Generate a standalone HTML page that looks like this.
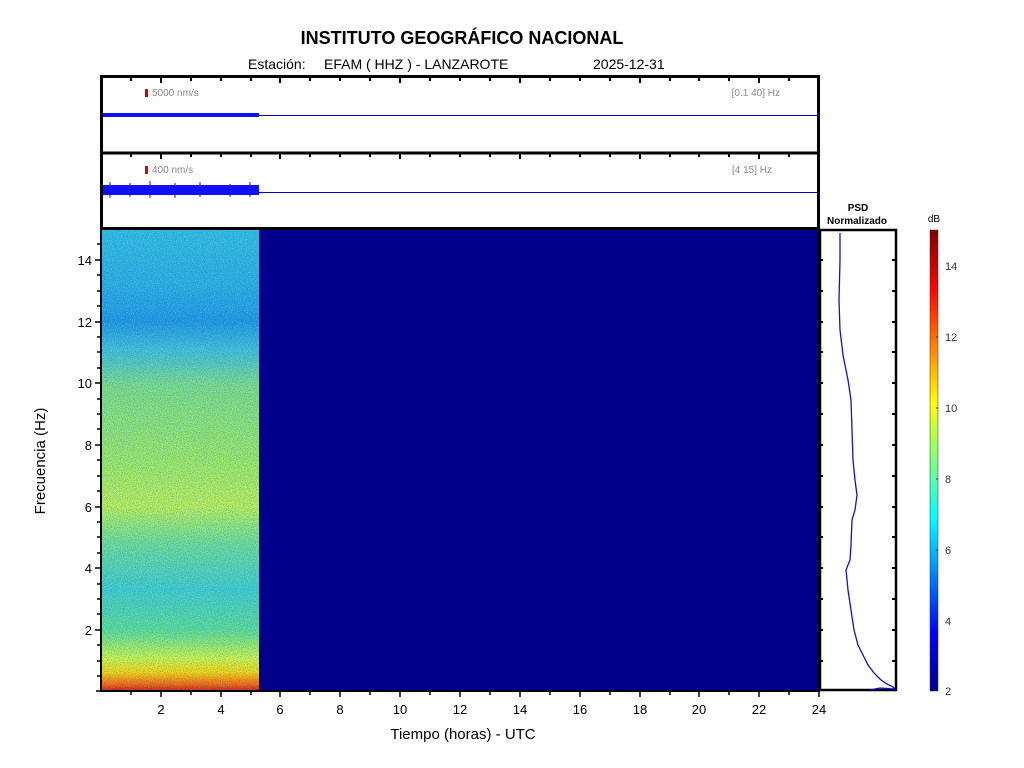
<!DOCTYPE html>
<html><head><meta charset="utf-8"><style>
body{margin:0;background:#fff;}
svg{display:block;font-family:"Liberation Sans",sans-serif;}
</style></head><body>
<svg width="1024" height="768" viewBox="0 0 1024 768">
<defs>
<linearGradient id="spec" x1="0" y1="0" x2="0" y2="1">
<stop offset="0" stop-color="#30b8e0"/>
<stop offset="0.12" stop-color="#2aa8e0"/>
<stop offset="0.2" stop-color="#2090e0"/>
<stop offset="0.26" stop-color="#40b8d8"/>
<stop offset="0.34" stop-color="#80d880"/>
<stop offset="0.5" stop-color="#a0e460"/>
<stop offset="0.6" stop-color="#c0ec50"/>
<stop offset="0.68" stop-color="#70d890"/>
<stop offset="0.78" stop-color="#40c8c8"/>
<stop offset="0.87" stop-color="#60d890"/>
<stop offset="0.93" stop-color="#d0f040"/>
<stop offset="0.96" stop-color="#ffd000"/>
<stop offset="0.985" stop-color="#ff6000"/>
<stop offset="1" stop-color="#d01000"/>
</linearGradient>
<linearGradient id="jet" x1="0" y1="1" x2="0" y2="0">
<stop offset="0" stop-color="#00008f"/>
<stop offset="0.125" stop-color="#0000ff"/>
<stop offset="0.375" stop-color="#00ffff"/>
<stop offset="0.625" stop-color="#ffff00"/>
<stop offset="0.875" stop-color="#ff0000"/>
<stop offset="1" stop-color="#800000"/>
</linearGradient>
<filter id="noise" x="0" y="0" width="1" height="1">
<feTurbulence type="fractalNoise" baseFrequency="1.2" numOctaves="1" seed="3"/>
<feColorMatrix type="matrix" values="0 0 0 0 0  0 0 0 0 0.3  0 0 0 0 0.7  0 0 0 2 -0.9"/>
</filter>
<filter id="noise2" x="0" y="0" width="1" height="1">
<feTurbulence type="fractalNoise" baseFrequency="1.1" numOctaves="1" seed="9"/>
<feColorMatrix type="matrix" values="0 0 0 0 0.7  0 0 0 0 1  0 0 0 0 0.5  0 0 0 2 -1.0"/>
</filter>
</defs>
<text x="462" y="44" text-anchor="middle" font-size="18" font-weight="bold">INSTITUTO GEOGRÁFICO NACIONAL</text>
<text x="248" y="69" font-size="14">Estación:</text>
<text x="324" y="69" font-size="14">EFAM ( HHZ ) - LANZAROTE</text>
<text x="593" y="69" font-size="14">2025-12-31</text>

<!-- top panels -->
<rect x="101.5" y="76.5" width="717" height="152" fill="#fff" stroke="#000" stroke-width="3"/>
<line x1="101" y1="153" x2="819" y2="153" stroke="#000" stroke-width="3"/>
<g stroke="#000" stroke-width="2">
<path d="M131 77v4M161 77v6M191 77v4M221 77v4M251 77v4M280 77v6M310 77v4M340 77v4M370 77v4M400 77v6M430 77v4M460 77v4M490 77v4M520 77v6M550 77v4M580 77v4M610 77v4M640 77v6M670 77v4M699 77v4M729 77v4M759 77v6M789 77v4"/>
<path d="M131 153v4M161 153v6M191 153v4M221 153v4M251 153v4M280 153v6M310 153v4M340 153v4M370 153v4M400 153v6M430 153v4M460 153v4M490 153v4M520 153v6M550 153v4M580 153v4M610 153v4M640 153v6M670 153v4M699 153v4M729 153v4M759 153v6M789 153v4"/>
</g>
<rect x="145" y="89" width="3" height="8" fill="#e00000"/>
<text x="152" y="96" font-size="10" fill="#888">5000 nm/s</text>
<text x="780" y="96" font-size="10" fill="#888" text-anchor="end">[0.1 40] Hz</text>
<rect x="103" y="113" width="156" height="4" fill="#1010ff"/>
<line x1="259" y1="115.5" x2="818" y2="115.5" stroke="#0000c0" stroke-width="1"/>
<rect x="145" y="166" width="3" height="8" fill="#e00000"/>
<text x="152" y="173" font-size="10" fill="#888">400 nm/s</text>
<text x="772" y="173" font-size="10" fill="#888" text-anchor="end">[4 15] Hz</text>
<rect x="103" y="185" width="156" height="10" fill="#1010ff"/>
<path d="M110 182v16M130 183v14M150 181v17M175 183v15M200 182v15M230 184v13M250 182v15" stroke="#1010ff"/>
<line x1="259" y1="192.5" x2="818" y2="192.5" stroke="#0000c0" stroke-width="1"/>

<!-- spectrogram -->
<rect x="101" y="229" width="718" height="462" fill="#00008c"/>
<rect x="101" y="229" width="158" height="462" fill="url(#spec)"/>
<rect x="101" y="229" width="158" height="462" filter="url(#noise)" opacity="0.8"/>
<rect x="101" y="229" width="158" height="462" filter="url(#noise2)" opacity="0.5"/>
<rect x="101" y="229" width="718" height="462" fill="none" stroke="#000" stroke-width="2"/>
<g stroke="#000" stroke-width="1.5">
<path d="M101 691h-5M101 260h-6M101 322h-6M101 383h-6M101 445h-6M101 507h-6M101 568h-6M101 630h-6"/>
<path d="M101 244h-4M101 275h-4M101 291h-4M101 306h-4M101 337h-4M101 352h-4M101 368h-4M101 399h-4M101 414h-4M101 429h-4M101 460h-4M101 476h-4M101 491h-4M101 522h-4M101 537h-4M101 553h-4M101 584h-4M101 599h-4M101 614h-4M101 645h-4M101 661h-4M101 676h-4"/>
<path d="M161 691v6M221 691v6M280 691v6M340 691v6M400 691v6M460 691v6M520 691v6M580 691v6M640 691v6M699 691v6M759 691v6M819 691v6"/>
<path d="M131 691v4M191 691v4M251 691v4M310 691v4M370 691v4M430 691v4M490 691v4M550 691v4M610 691v4M670 691v4M729 691v4M789 691v4"/>
</g>
<g font-size="13" text-anchor="end">
<text x="92" y="265">14</text><text x="92" y="327">12</text><text x="92" y="388">10</text>
<text x="92" y="450">8</text><text x="92" y="512">6</text><text x="92" y="573">4</text><text x="92" y="635">2</text>
</g>
<g font-size="13" text-anchor="middle">
<text x="161" y="714">2</text><text x="221" y="714">4</text><text x="280" y="714">6</text><text x="340" y="714">8</text>
<text x="400" y="714">10</text><text x="460" y="714">12</text><text x="520" y="714">14</text><text x="580" y="714">16</text>
<text x="640" y="714">18</text><text x="699" y="714">20</text><text x="759" y="714">22</text><text x="819" y="714">24</text>
</g>
<text x="463" y="739" font-size="15" text-anchor="middle">Tiempo (horas) - UTC</text>
<text transform="translate(45,461) rotate(-90)" font-size="15" text-anchor="middle">Frecuencia  (Hz)</text>

<!-- PSD -->
<text x="858" y="211" font-size="10" font-weight="bold" text-anchor="middle">PSD</text>
<text x="857" y="224" font-size="10" font-weight="bold" text-anchor="middle">Normalizado</text>
<rect x="820" y="230" width="76" height="460" fill="#fff" stroke="#000" stroke-width="2.5"/>
<polyline fill="none" stroke="#1010d0" stroke-width="1.3" points="840,233 840,260 839,300 840,330 843,355 848,380 851,400 852,430 853,460 855,480 857,495 855,510 852,520 851,545 850,560 846,570 848,590 851,610 854,630 858,645 863,655 868,665 874,673 881,680 887,684 893,687 895,689 880,688 870,690"/>
<g stroke="#000" stroke-width="2">
<path d="M820 260h3M820 291h3M820 322h3M820 352h3M820 383h3M820 414h3M820 445h3M820 476h3M820 507h3M820 537h3M820 568h3M820 599h3M820 630h3M820 661h3"/>
<path d="M896 260h-4M896 291h-4M896 322h-4M896 352h-4M896 383h-4M896 414h-4M896 445h-4M896 476h-4M896 507h-4M896 537h-4M896 568h-4M896 599h-4M896 630h-4M896 661h-4"/>
</g>

<!-- colorbar -->
<text x="934" y="222" font-size="10" text-anchor="middle">dB</text>
<rect x="930" y="230" width="8" height="461" fill="url(#jet)" stroke="#333" stroke-width="0.5"/>
<g font-size="11" fill="#333">
<text x="945" y="270">14</text><text x="945" y="341">12</text><text x="945" y="412">10</text>
<text x="945" y="483">8</text><text x="945" y="554">6</text><text x="945" y="625">4</text><text x="945" y="695">2</text>
</g>
<g stroke="#333" stroke-width="1"><path d="M936 266h2M936 337h2M936 408h2M936 479h2M936 550h2M936 621h2"/></g>
</svg>
</body></html>
